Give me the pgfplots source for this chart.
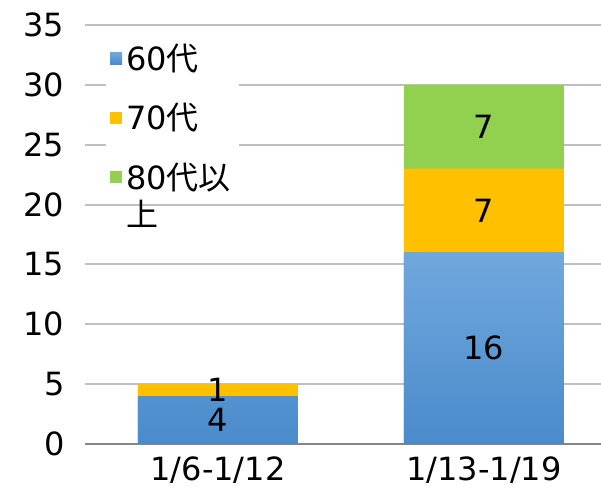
\documentclass[border=0pt]{standalone}
\usepackage{fontspec}
\setmainfont{DejaVu Sans}
\newfontfamily\jp{Noto Sans CJK JP}
\usepackage{pgfplots}
\pgfplotsset{compat=1.18}
\definecolor{cA}{HTML}{70A8DD}
\definecolor{cB}{HTML}{4A8BCB}
\definecolor{c70}{HTML}{FFC000}
\definecolor{c80}{HTML}{92D050}
\definecolor{gridc}{HTML}{BFBFBF}
\definecolor{axisc}{HTML}{868686}
\newcommand\cf{\fontsize{16bp}{18bp}\selectfont}
\begin{document}
\begin{tikzpicture}
\begin{axis}[
  scale only axis, width=258bp, height=209.5bp,
  ybar stacked, bar width=80bp,
  xmin=-0.5, xmax=1.44, ymin=0, ymax=35,
  xtick={0,1}, xticklabels={1/6-1/12,1/13-1/19},
  ytick={0,5,...,35},
  ymajorgrids, grid style={gridc, line width=1bp},
  axis x line*=bottom, axis y line*=left,
  x axis line style={axisc, line width=1.1bp, -},
  y axis line style={draw=none},
  major tick length=0pt,
  /pgf/number format/assume math mode=true,
  tick label style={font=\cf, text=black},
  yticklabel style={xshift=-6.8bp},
  xticklabel style={yshift=-3bp},
  legend style={at={(0.04,0.975)}, anchor=north west, draw=none, fill=white,
    font=\cf, row sep=11bp, inner sep=2bp, cells={anchor=base west}},
  legend image code/.code={\fill[#1] (0bp,3bp) rectangle (6bp,9bp);},
  nodes near coords={\pgfmathprintnumber{\rawy}},
  visualization depends on=rawy \as \rawy,
  every node near coord/.append style={anchor=center, font=\cf, text=black},
]
\addplot[draw=none, fill=cB, top color=cA, bottom color=cB] coordinates {(0,4) (1,16)};
\addlegendentry{60{\jp 代}}
\addplot[draw=none, fill=c70] coordinates {(0,1) (1,7)};
\addlegendentry{70{\jp 代}}
\addplot[draw=none, fill=c80] coordinates {(0,0) (1,7)};
\addlegendentry{\begin{tabular}[t]{@{}l@{}}80{\jp 代以}\\{\jp 上}\end{tabular}}
\coordinate (ll) at (rel axis cs:0,0);
\coordinate (ur) at (rel axis cs:1,1);
\end{axis}
\pgfresetboundingbox
\path ([shift={(-42.5bp,-23bp)}]ll) rectangle ([shift={(0bp,12.5bp)}]ur);
\end{tikzpicture}
\end{document}
